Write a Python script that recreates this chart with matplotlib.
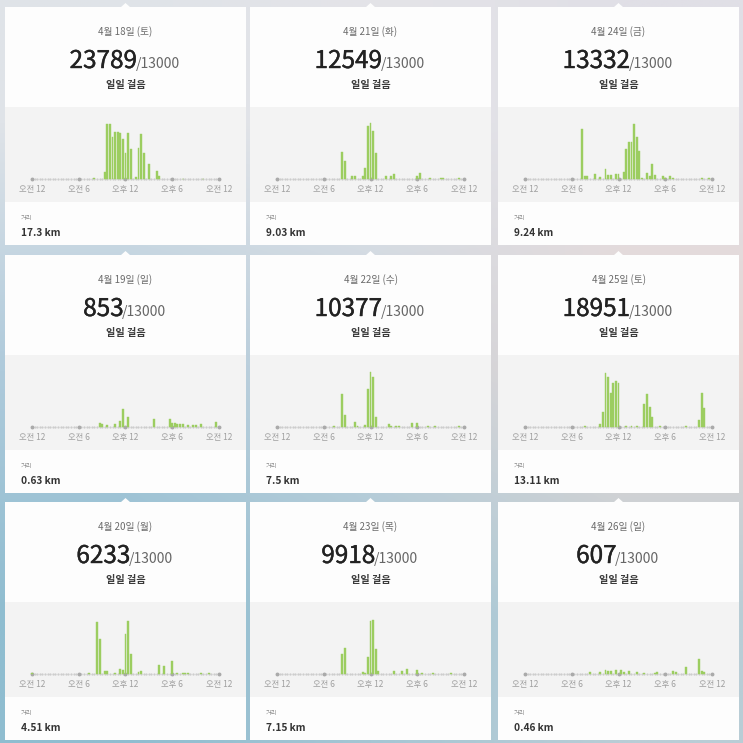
import numpy as np
import matplotlib
matplotlib.use("Agg")
import matplotlib.pyplot as plt
import matplotlib.patheffects as pe
from matplotlib.colors import to_rgb
from matplotlib.patches import Rectangle, Polygon

plt.rcParams['font.family'] = ['Noto Sans CJK KR', 'DejaVu Sans']

# cards in reading order (row by row)
dates = ["4월 18일 (토)", "4월 21일 (화)", "4월 24일 (금)",
         "4월 19일 (일)", "4월 22일 (수)", "4월 25일 (토)",
         "4월 20일 (월)", "4월 23일 (목)", "4월 26일 (일)"]
totals = [23789, 12549, 13332, 853, 10377, 18951, 6233, 9918, 607]
goal = 13000
distances = ["17.3 km", "9.03 km", "9.24 km",
             "0.63 km", "7.5 km", "13.11 km",
             "4.51 km", "7.15 km", "0.46 km"]
hour_labels = ["오전 12", "오전 6", "오후 12", "오후 6", "오전 12"]

# steps per 20-minute slot (slot 0 = midnight)
apr18_slots = [24, 28, 29, 30, 31, 32, 33, 34, 35, 36, 37, 38, 40, 41, 42, 43, 45, 48, 49, 58, 66]
apr18_steps = [30, 280, 2310, 2310, 1780, 1960, 1970, 1920, 1670, 1080, 1950, 1250, 100, 1320, 1880, 1080, 620, 350, 140, 20, 20]

apr21_slots = [25, 26, 29, 30, 33, 34, 35, 36, 37, 38, 42, 44, 45, 54, 55, 59, 63, 64, 70]
apr21_steps = [1230, 830, 120, 150, 150, 520, 2450, 2570, 2220, 1190, 150, 150, 230, 150, 260, 30, 60, 50, 30]

apr24_slots = [22, 23, 24, 27, 29, 31, 32, 33, 35, 36, 38, 39, 40, 41, 42, 43, 44, 45, 47, 48, 49, 50, 53, 54, 56, 57, 68, 71]
apr24_steps = [1830, 120, 120, 180, 60, 350, 150, 150, 180, 180, 240, 1100, 1370, 1370, 2010, 1550, 1040, 40, 210, 120, 540, 150, 100, 40, 120, 20, 20, 20]

apr19_slots = [26, 27, 29, 32, 34, 35, 37, 47, 53, 54, 55, 56, 57, 58, 60, 62, 63, 65, 71]
apr19_steps = [37, 25, 16, 25, 56, 170, 93, 78, 78, 37, 37, 31, 25, 25, 19, 19, 19, 25, 47]

apr22_slots = [22, 25, 26, 30, 31, 34, 35, 36, 37, 38, 43, 44, 46, 47, 52, 54, 58, 61, 70]
apr22_steps = [30, 1540, 550, 230, 50, 80, 1780, 2560, 2320, 450, 160, 60, 50, 50, 190, 190, 50, 30, 30]

apr25_slots = [23, 29, 30, 31, 32, 33, 34, 35, 36, 39, 41, 43, 46, 47, 48, 49, 52, 62, 67, 68, 69]
apr25_steps = [30, 140, 640, 2300, 2160, 1440, 1870, 1970, 1870, 40, 30, 40, 1000, 1400, 860, 440, 30, 30, 300, 1470, 830]

apr20_slots = [0, 22, 25, 26, 28, 29, 32, 34, 35, 36, 37, 38, 41, 42, 49, 51, 54, 56, 58, 59, 60, 65, 68]
apr20_steps = [20, 25, 1260, 850, 65, 65, 25, 130, 105, 970, 1300, 490, 40, 80, 230, 190, 310, 15, 30, 25, 25, 15, 15]

apr23_slots = [25, 26, 33, 34, 35, 36, 37, 38, 39, 45, 48, 50, 54, 56, 60, 67]
apr23_steps = [910, 1180, 90, 60, 760, 2390, 2460, 1130, 150, 150, 150, 210, 180, 45, 30, 30]

apr26_slots = [25, 29, 31, 32, 33, 35, 37, 38, 40, 43, 46, 50, 51, 57, 58, 62, 67, 68, 69]
apr26_steps = [16, 16, 38, 32, 25, 38, 38, 19, 32, 19, 10, 10, 19, 25, 16, 70, 139, 32, 16]

slots = [apr18_slots, apr21_slots, apr24_slots,
         apr19_slots, apr22_slots, apr25_slots,
         apr20_slots, apr23_slots, apr26_slots]
steps = [apr18_steps, apr21_steps, apr24_steps,
         apr19_steps, apr22_steps, apr25_steps,
         apr20_steps, apr23_steps, apr26_steps]
# top of each little chart's y scale (the app scales each day on its own)
y_max = [2520, 2770, 2200, 560, 2810, 2570, 1460, 2720, 570]

W = H = 743
card_left = [5, 250, 498]
card_top = [7, 255, 502]
card_w, card_h = 241, 238
bar_color = "#9ccd60"


def main():
    fig = plt.figure(figsize=(W / 100, H / 100), dpi=100)
    bg = fig.add_axes([0, 0, 1, 1])

    corner = [["#dfe3e8", "#e4e4e8", "#e0dfe6"],
              ["#aecadb", "#c6d3dd", "#e6d6d2"],
              ["#8fbdd0", "#a5c6d4", "#b9cdd6"]]
    grad = np.array([[to_rgb(c) for c in row] for row in corner])
    bg.imshow(grad, extent=(0, W, H, 0), interpolation='bilinear', aspect='auto', zorder=0)
    bg.set_xlim(0, W)
    bg.set_ylim(H, 0)
    bg.axis('off')

    renderer = fig.canvas.get_renderer()
    thicker = [pe.withStroke(linewidth=0.3, foreground="#222222")]

    for k in range(9):
        r, c = divmod(k, 3)
        x0, y0 = card_left[c], card_top[r]
        cx = x0 + card_w / 2

        # card, notch and grey chart band
        bg.add_patch(Rectangle((x0, y0), card_w, card_h, facecolor="#fdfdfd",
                               edgecolor="none", zorder=1))
        bg.add_patch(Polygon([(cx - 5, y0 + 0.5), (cx + 5, y0 + 0.5), (cx, y0 - 4)],
                             closed=True, facecolor="#fdfdfd", edgecolor="none", zorder=1))
        bg.add_patch(Rectangle((x0, y0 + 100), card_w, 95, facecolor="#f3f3f3",
                               edgecolor="none", zorder=2))

        bg.text(cx, y0 + 25, dates[k], ha='center', va='center',
                fontsize=7, color="#6b6b6b", zorder=3)

        big = bg.text(cx, y0 + 61, f"{totals[k]}", ha='left', va='baseline',
                      fontsize=17.5, color="#222222", zorder=3, path_effects=thicker)
        small = bg.text(cx, y0 + 61, f"/{goal}", ha='left', va='baseline',
                        fontsize=10, color="#666666", zorder=3)
        w1 = big.get_window_extent(renderer).width
        w2 = small.get_window_extent(renderer).width
        start = cx - (w1 + w2) / 2
        big.set_x(start)
        small.set_x(start + w1 - 1.5)

        bg.text(cx, y0 + 78, "일일 걸음", ha='center', va='center',
                fontsize=7.3, fontweight='bold', color="#3a3a3a", zorder=3)

        bg.text(x0 + 16, y0 + 211, "거리", ha='left', va='center',
                fontsize=4.5, color="#888888", zorder=3)
        bg.text(x0 + 16, y0 + 226, distances[k], ha='left', va='center',
                fontsize=7.3, fontweight='bold', color="#333333", zorder=3)

        # bar chart of the day
        ax = fig.add_axes([(x0 + 27) / W, 1 - (y0 + 172) / H, 187 / W, 60 / H])
        ax.set_facecolor('none')
        ax.bar(slots[k], steps[k], width=0.75, color=bar_color, edgecolor=bar_color,
               linewidth=0.3, zorder=3, clip_on=False)
        grid = np.arange(0, 73)
        ax.plot(grid, np.zeros_like(grid), ls='none', marker='.', ms=1.3,
                color="#cccccc", clip_on=False, zorder=2)
        major = np.arange(0, 73, 18)
        ax.plot(major, np.zeros_like(major), ls='none', marker='o', ms=1.8,
                color="#aaaaaa", clip_on=False, zorder=2)
        ax.set_xlim(0, 72)
        ax.set_ylim(0, y_max[k])
        ax.set_xticks(major, hour_labels)
        ax.set_yticks([])
        ax.tick_params(axis='x', length=0, pad=4.5, labelsize=6, labelcolor="#a0a0a0")
        for s in ax.spines.values():
            s.set_visible(False)

    fig.savefig("out.png", dpi=100)


if __name__ == "__main__":
    main()
